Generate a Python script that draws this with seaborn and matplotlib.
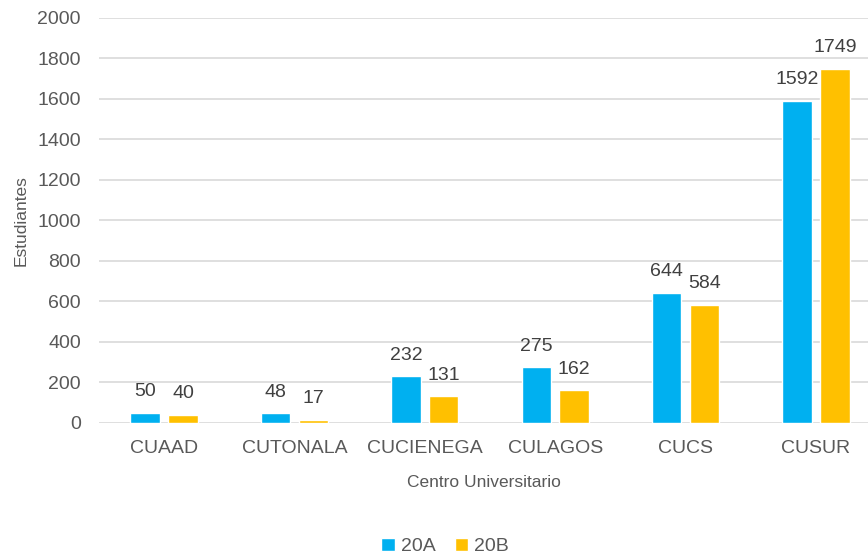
import pandas as pd
import seaborn as sns
import matplotlib.pyplot as plt

# Datos
centros = ['CUAAD', 'CUTONALA', 'CUCIENEGA', 'CULAGOS', 'CUCS', 'CUSUR']
ciclo_20A = [50, 48, 232, 275, 644, 1592]
ciclo_20B = [40, 17, 131, 162, 584, 1749]
ciclos = ['20A', '20B']

df = pd.DataFrame({
    'Centro': centros * 2,
    'Ciclo': ['20A'] * len(centros) + ['20B'] * len(centros),
    'Estudiantes': ciclo_20A + ciclo_20B,
})

sns.set_theme(style='white')
plt.rcParams['font.family'] = ['Liberation Sans', 'DejaVu Sans']
gris = '#595959'

fig = plt.figure(figsize=(8.68, 5.57), dpi=100)
ax = fig.add_axes([0.114, 0.2406, 0.886, 0.7271])

colores = {'20A': '#00B0F0', '20B': '#FFC000'}
sns.barplot(data=df, x='Centro', y='Estudiantes', hue='Ciclo', hue_order=ciclos,
            palette=colores, width=0.58, gap=0.22, saturation=1, ax=ax)

# etiquetas de valores
for cont in ax.containers:
    ax.bar_label(cont, fontsize=14, color='#404040', padding=9)

# el grafico original queda cortado a la derecha
ax.set_xlim(-0.5, 5.4)
ax.set_ylim(0, 2000)
ax.set_yticks(range(0, 2001, 200))
ax.yaxis.grid(True, color='#d9d9d9', linewidth=1.2)
ax.set_axisbelow(True)
for s in ax.spines.values():
    s.set_visible(False)
ax.tick_params(axis='both', length=0, labelsize=14, colors=gris)
ax.tick_params(axis='x', pad=12)
ax.tick_params(axis='y', pad=13)
ax.set_xlabel('Centro Universitario', fontsize=12.5, color=gris, labelpad=13)
ax.set_ylabel('Estudiantes', fontsize=12.5, color=gris, labelpad=6)

ax.legend(loc='lower center', bbox_to_anchor=(0.45, -0.37), ncol=2, frameon=False,
          fontsize=14, handlelength=0.7, handleheight=0.7, handletextpad=0.3,
          columnspacing=1.0, labelcolor=gris)

fig.savefig('out.png', dpi=100)
